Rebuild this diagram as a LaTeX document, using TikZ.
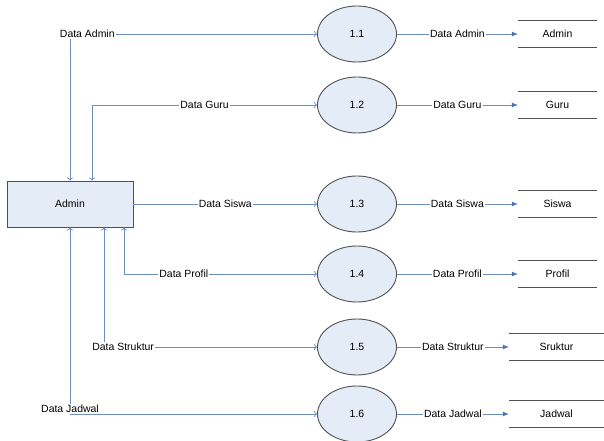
\documentclass[tikz,border=0pt]{standalone}
\usepackage{fontspec}
\setmainfont{Liberation Sans}
\usetikzlibrary{arrows.meta,shapes.geometric}
\definecolor{flowblue}{RGB}{110,142,192}
\definecolor{tipblue}{RGB}{70,115,180}
\definecolor{boxfill}{RGB}{228,236,247}
\definecolor{edgegrey}{RGB}{80,80,80}

\begin{document}
\begin{tikzpicture}[x=1bp,y=-1bp,font=\fontsize{10.5}{12}\selectfont,
    proc/.style={draw=edgegrey,fill=boxfill,ellipse,line width=0.9bp,
                 minimum width=79bp,minimum height=56bp,inner sep=0},
    entity/.style={draw=edgegrey,fill=boxfill,line width=0.9bp,
                   minimum width=126bp,minimum height=46bp,inner sep=0},
    store/.style={minimum height=27bp,inner sep=0},
    flow/.style={draw=flowblue,line width=0.7bp,
                 {To[length=3bp,width=6bp]}-{To[length=3bp,width=6bp]}},
    outflow/.style={draw=flowblue,line width=0.7bp,
                    -{Latex[length=6bp,width=5bp,color=tipblue]}},
    lbl/.style={fill=white,inner sep=1bp,text=black}]
  \useasboundingbox (0,0) rectangle (604,441);

  \node[entity] (admin) at (70,204) {Admin}; % external entity

  % processes
  \node[proc] (p1) at (357,34)  {1.1};
  \node[proc] (p2) at (357,105) {1.2};
  \node[proc] (p3) at (357,204) {1.3};
  \node[proc] (p4) at (357,274) {1.4};
  \node[proc] (p5) at (357,347) {1.5};
  \node[proc] (p6) at (357,414) {1.6};

  % data stores
  \node[store,minimum width=79bp] (s1) at (557.5,34)  {Admin};
  \node[store,minimum width=79bp] (s2) at (557.5,105) {Guru};
  \node[store,minimum width=79bp] (s3) at (557.5,204) {Siswa};
  \node[store,minimum width=79bp] (s4) at (557.5,274) {Profil};
  \node[store,minimum width=95bp] (s5) at (556.5,347) {Sruktur};
  \node[store,minimum width=95bp] (s6) at (556.5,414) {Jadwal};
  \foreach \s in {s1,s2,s3,s4,s5,s6}
    \draw[edgegrey,line width=0.9bp] (\s.north west) -- (\s.north east)
                                     (\s.south west) -- (\s.south east);

  % admin <-> processes
  \draw[flow] (admin.north) |- node[lbl,pos=0.535] {Data Admin} (p1.west);
  \draw[flow] ([xshift=22bp]admin.north) |- node[lbl,pos=0.75] {Data Guru} (p2.west);
  \draw[flow,-{To[length=3bp,width=6bp]}] (admin.east) -- node[lbl] {Data Siswa} (p3.west);
  \draw[flow] ([xshift=54bp]admin.south) |- node[lbl,pos=0.655] {Data Profil} (p4.west);
  \draw[flow] ([xshift=34bp]admin.south) |- node[lbl,pos=0.545] {Data Struktur} (p5.west);
  \draw[flow] (admin.south) |- node[lbl,pos=0.5,above=0bp] {Data Jadwal} (p6.west);

  % processes -> stores
  \draw[outflow] (p1.east) -- node[lbl] {Data Admin} (s1.west);
  \draw[outflow] (p2.east) -- node[lbl] {Data Guru} (s2.west);
  \draw[outflow] (p3.east) -- node[lbl] {Data Siswa} (s3.west);
  \draw[outflow] (p4.east) -- node[lbl] {Data Profil} (s4.west);
  \draw[outflow] (p5.east) -- node[lbl] {Data Struktur} (s5.west);
  \draw[outflow] (p6.east) -- node[lbl] {Data Jadwal} (s6.west);
\end{tikzpicture}
\end{document}
